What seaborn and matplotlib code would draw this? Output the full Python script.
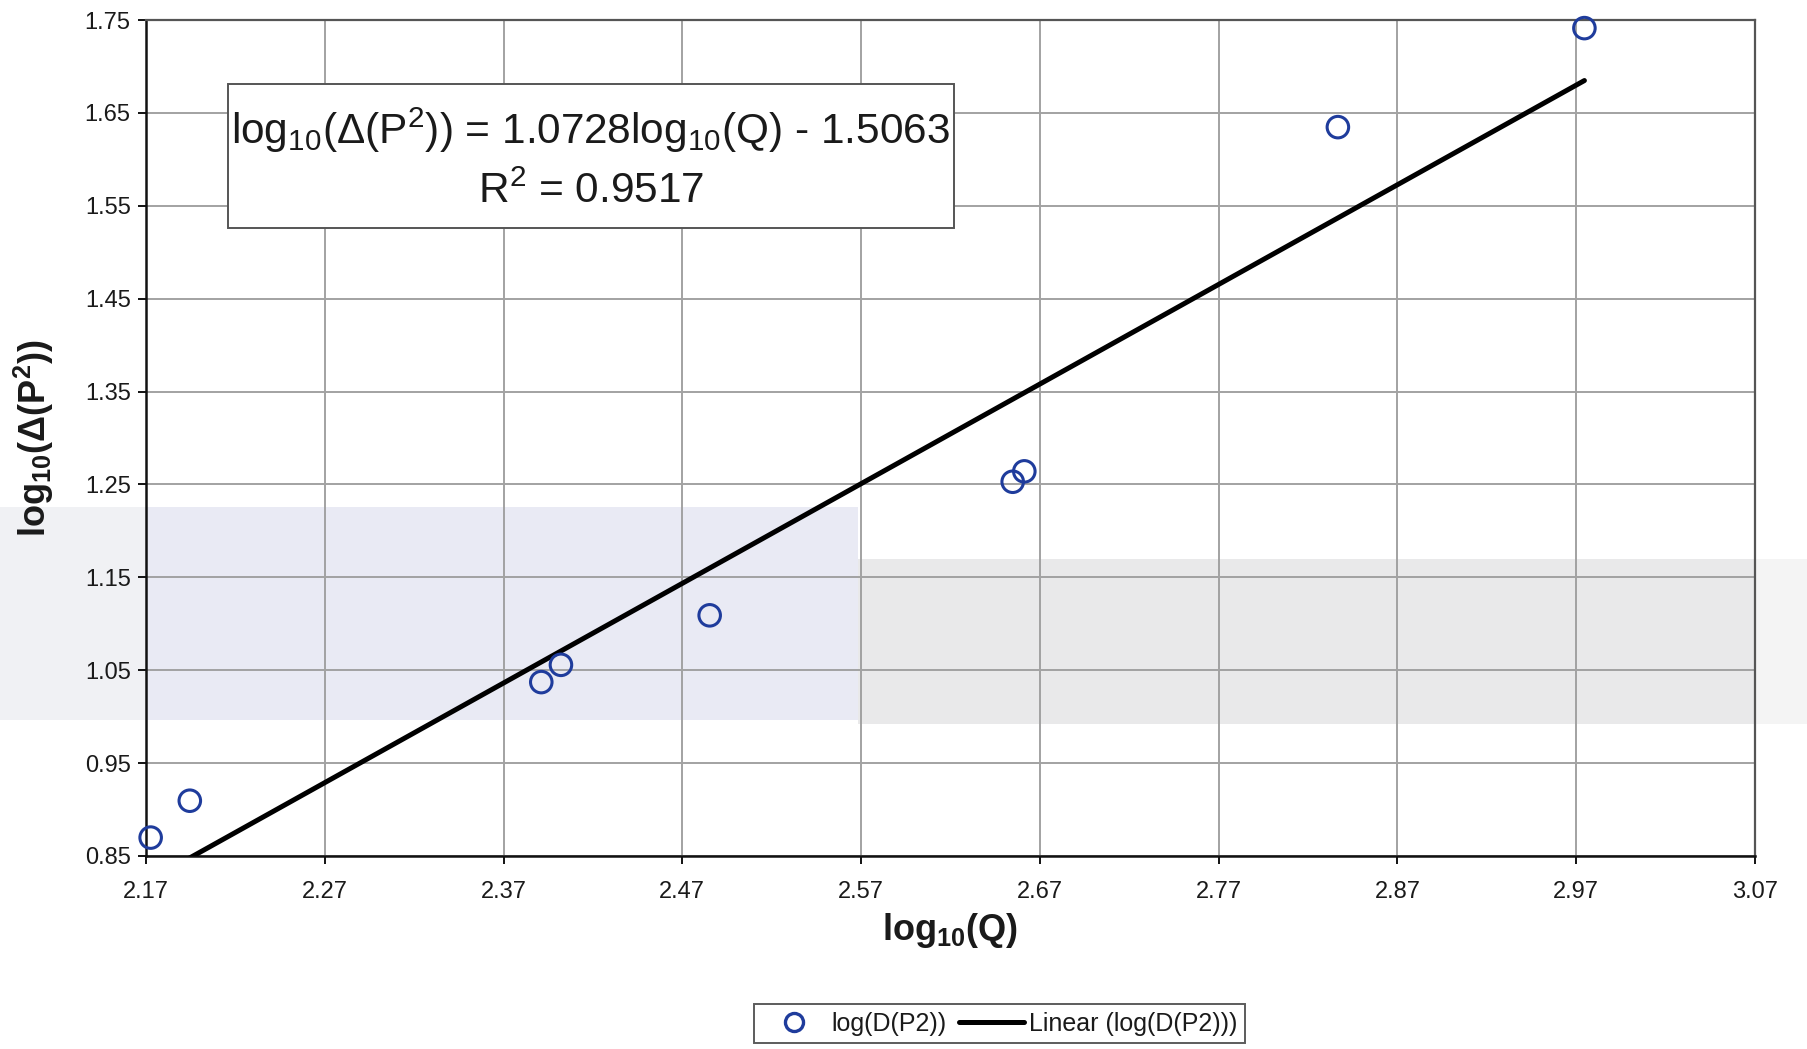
import matplotlib
matplotlib.use("Agg")
import numpy as np
import pandas as pd
import seaborn as sns
import matplotlib.pyplot as plt
from matplotlib.patches import Rectangle
from matplotlib.lines import Line2D

# Measured points: log10 of flow vs log10 of squared-pressure drop
log_q = [2.1726, 2.1945, 2.3911, 2.4021, 2.4853, 2.6548, 2.6613, 2.8367, 2.9746]
log_dp2 = [0.8698, 0.9095, 1.0372, 1.0558, 1.1091, 1.2529, 1.2641, 1.6347, 1.7413]

# Linear trendline reported for the series
slope = 1.0728
intercept = -1.5063
r_squared = 0.9517

x_ticks = [2.17, 2.27, 2.37, 2.47, 2.57, 2.67, 2.77, 2.87, 2.97, 3.07]
y_ticks = [0.85, 0.95, 1.05, 1.15, 1.25, 1.35, 1.45, 1.55, 1.65, 1.75]

series_name = "log(D(P2))"
trend_name = "Linear (log(D(P2)))"

df = pd.DataFrame({"log_q": log_q, "log_dp2": log_dp2})
fit_x = np.array([df["log_q"].min(), df["log_q"].max()])
fit = pd.DataFrame({"x": fit_x, "y": slope * fit_x + intercept})

sns.set_theme(style="white")
plt.rcParams["font.family"] = ["Liberation Sans", "DejaVu Sans"]
plt.rcParams["mathtext.fontset"] = "custom"
plt.rcParams["mathtext.rm"] = "Liberation Sans"
plt.rcParams["mathtext.it"] = "Liberation Sans"
plt.rcParams["mathtext.bf"] = "Liberation Sans:bold"

fig = plt.figure(figsize=(18.07, 10.49), dpi=100)
fig.patch.set_facecolor("white")

# faint toner bands across the middle of the sheet
fig.add_artist(Rectangle((0.0, 0.314), 0.0808, 0.203, transform=fig.transFigure,
                         facecolor="#f0f1f4", edgecolor="none", zorder=-2))
fig.add_artist(Rectangle((0.0808, 0.314), 0.394, 0.203, transform=fig.transFigure,
                         facecolor="#e9eaf4", edgecolor="none", zorder=-2))
fig.add_artist(Rectangle((0.475, 0.310), 0.496, 0.157, transform=fig.transFigure,
                         facecolor="#e9e9ea", edgecolor="none", zorder=-2))
fig.add_artist(Rectangle((0.971, 0.310), 0.029, 0.157, transform=fig.transFigure,
                         facecolor="#f4f4f4", edgecolor="none", zorder=-2))

ax = fig.add_axes([0.0808, 0.184, 0.8904, 0.7969])
ax.set_facecolor("none")

ax.set_xlim(2.17, 3.07)
ax.set_ylim(0.85, 1.75)
ax.set_xticks(x_ticks)
ax.set_yticks(y_ticks)
ax.set_xticklabels([f"{t:.2f}" for t in x_ticks])
ax.set_yticklabels([f"{t:.2f}" for t in y_ticks])
ax.grid(True, color="#a2a2a2", linewidth=1.4, zorder=0)
ax.set_axisbelow(True)

sns.lineplot(data=fit, x="x", y="y", ax=ax, color="black", linewidth=3.6,
             zorder=3, legend=False)
sns.scatterplot(data=df, x="log_q", y="log_dp2", ax=ax, marker="o", s=240,
                facecolors="none", edgecolor="#1f3c9c", linewidth=2.2,
                zorder=4, legend=False, clip_on=False)

ax.tick_params(axis="both", which="major", direction="out", length=6,
               width=1.3, color="black", labelsize=17, labelcolor="#1a1a1a")
ax.tick_params(axis="x", pad=12, bottom=True)
ax.tick_params(axis="y", pad=5, left=True)

for side in ["left", "bottom"]:
    ax.spines[side].set_color("#111111")
    ax.spines[side].set_linewidth(1.8)
for side in ["top", "right"]:
    ax.spines[side].set_color("#555555")
    ax.spines[side].set_linewidth(1.6)

ax.set_xlabel(r"log$_\mathbf{10}$(Q)", fontsize=26, fontweight="bold", color="#1a1a1a")
ax.set_ylabel(r"log$_\mathbf{10}$(Δ(P$^\mathbf{2}$))", fontsize=26, fontweight="bold",
              color="#1a1a1a")
ax.xaxis.set_label_coords(0.5, -0.066)
ax.yaxis.set_label_coords(-0.056, 0.5)

# trendline equation box
fig.add_artist(Rectangle((0.1262, 0.7827), 0.4018, 0.1373, transform=fig.transFigure,
                         facecolor="white", edgecolor="#555555", linewidth=1.4, zorder=5))
sign = "-" if intercept < 0 else "+"
eq_text = (r"log$_{10}$(Δ(P$^2$)) = " + f"{slope:.4f}" + r"log$_{10}$(Q) "
           + f"{sign} {abs(intercept):.4f}")
fig.text(0.327, 0.876, eq_text, fontsize=30.5, ha="center", va="center",
         color="#1a1a1a", zorder=6)
fig.text(0.327, 0.817, r"R$^2$ = " + f"{r_squared:.4f}", fontsize=30.5,
         ha="center", va="center", color="#1a1a1a", zorder=6)

handles = [
    Line2D([], [], linestyle="none", marker="o", markersize=13,
           markerfacecolor="none", markeredgecolor="#1f3c9c", markeredgewidth=2.4),
    Line2D([], [], color="black", linewidth=3.6),
]
leg = fig.legend(handles, [series_name, trend_name], loc="center",
                 bbox_to_anchor=(0.553, 0.0243), ncol=2, fontsize=18,
                 frameon=True, fancybox=False, edgecolor="#333333",
                 handlelength=2.6, handletextpad=0.2, columnspacing=0.5,
                 borderpad=0.3, labelcolor="#1a1a1a")
leg.get_frame().set_linewidth(1.4)

fig.savefig("out.png", dpi=100)
